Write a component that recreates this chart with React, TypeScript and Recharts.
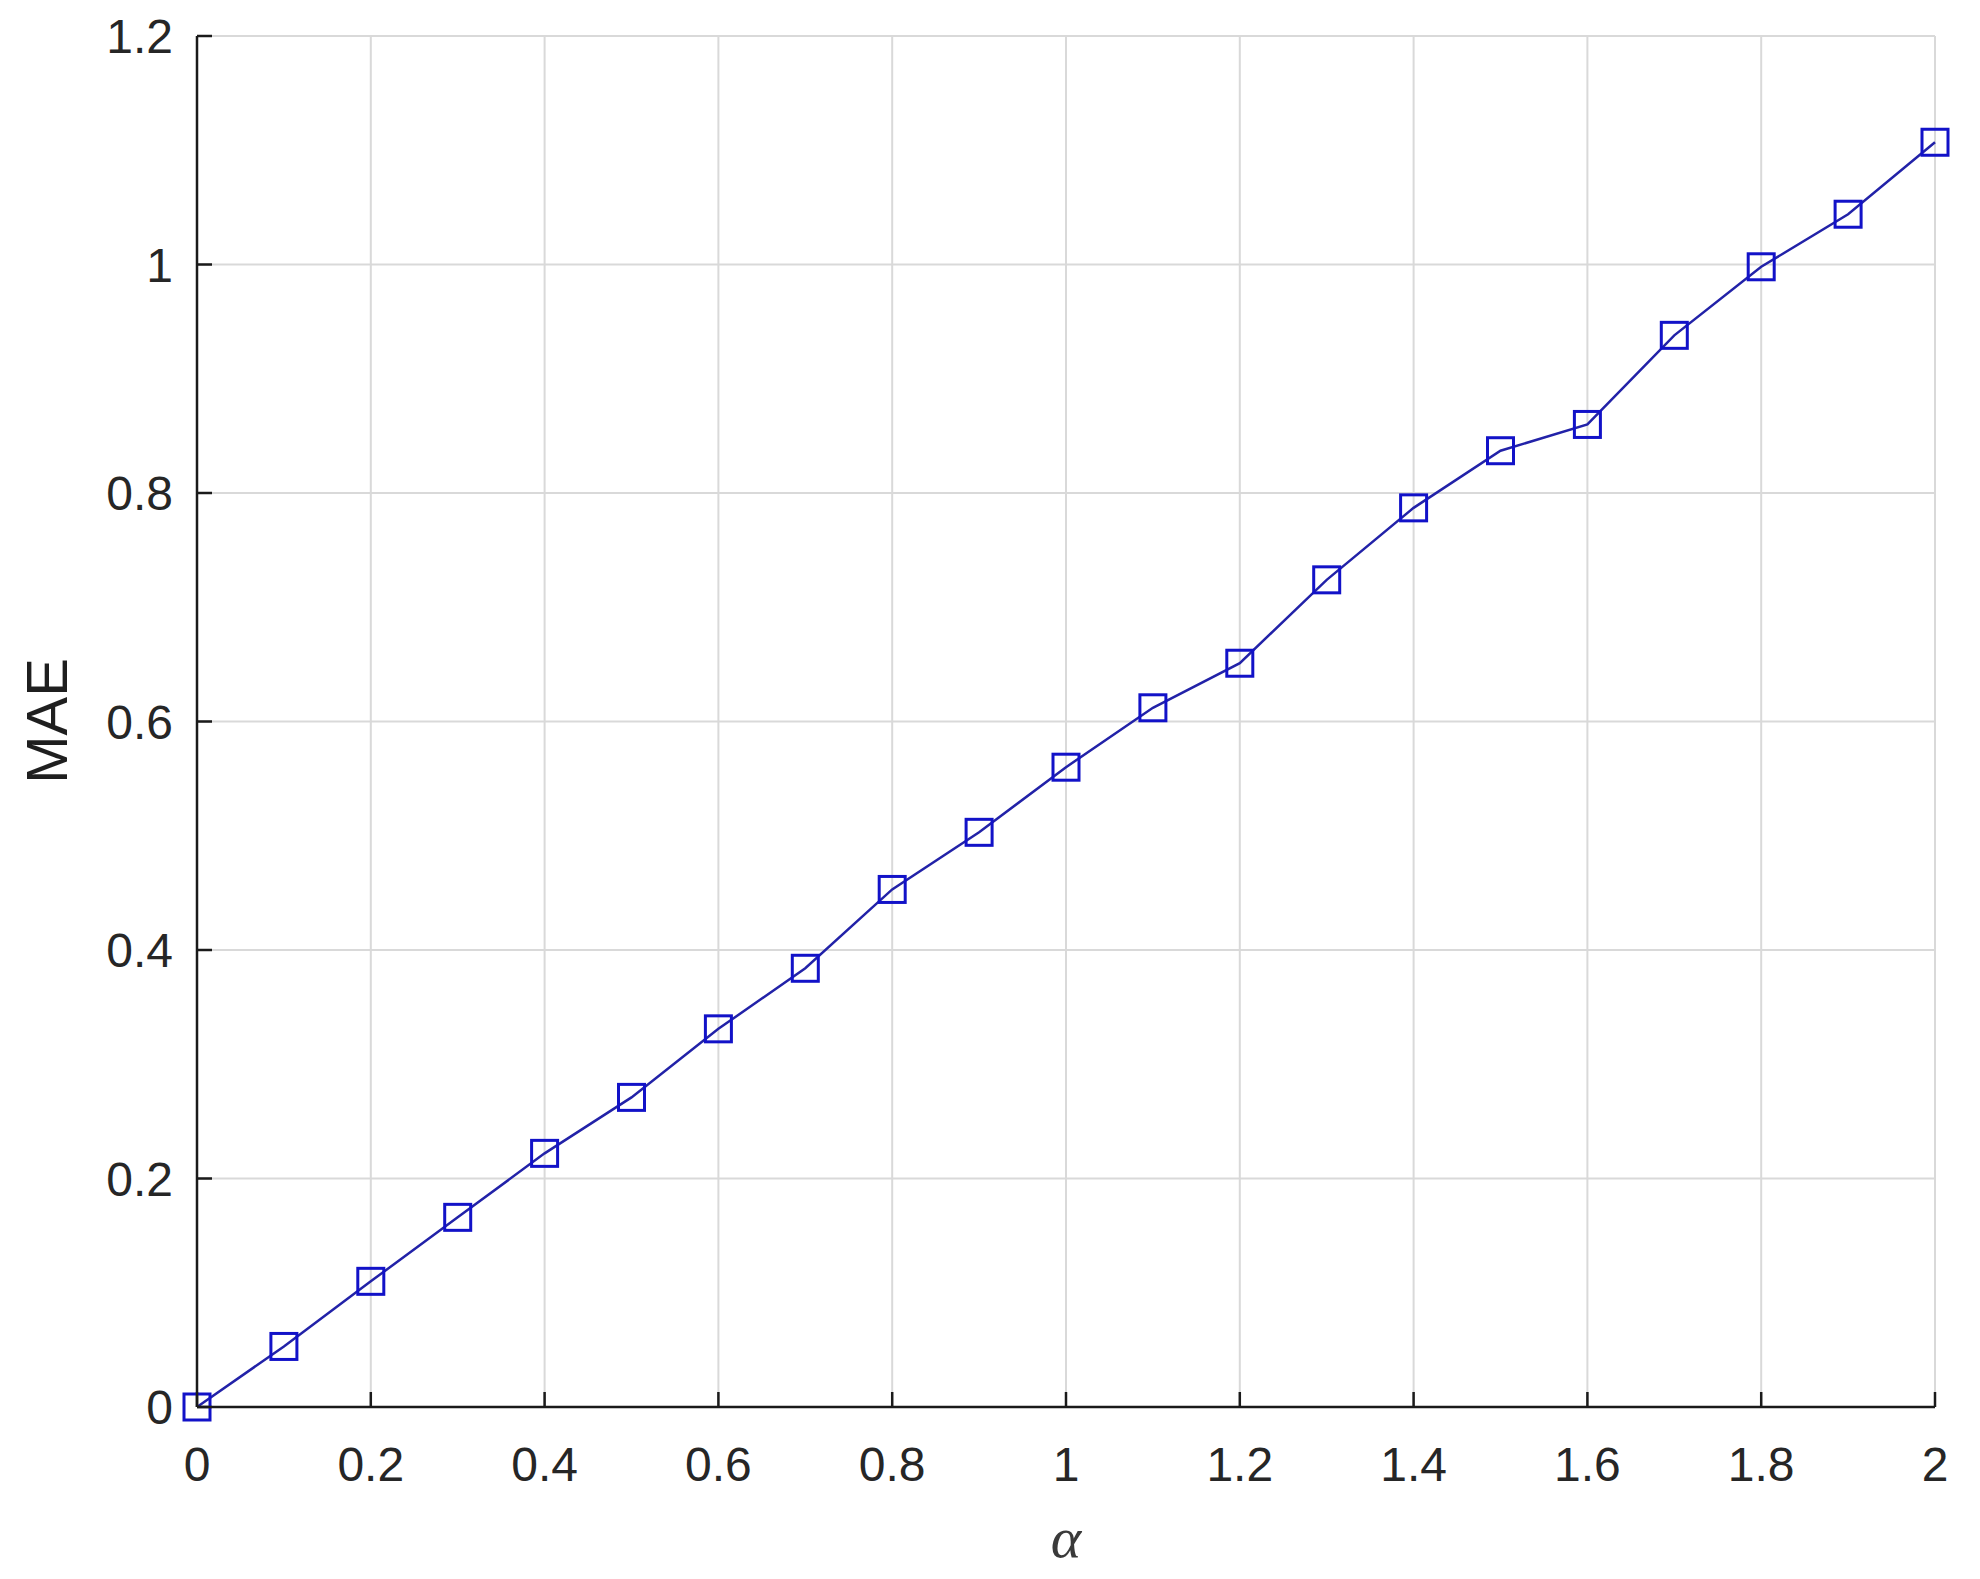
import React from "react";
import { LineChart, Line, XAxis, YAxis, CartesianGrid } from "recharts";

// alpha sweep and the measured MAE at each step
const alphaValues = [0, 0.1, 0.2, 0.3, 0.4, 0.5, 0.6, 0.7, 0.8, 0.9, 1, 1.1, 1.2, 1.3, 1.4, 1.5, 1.6, 1.7, 1.8, 1.9, 2];
const maeValues = [
  0, 0.053, 0.11, 0.166, 0.222, 0.271, 0.331, 0.384, 0.453, 0.503, 0.56, 0.612, 0.651, 0.724, 0.787,
  0.837, 0.86, 0.938, 0.998, 1.044, 1.107,
];
const xTicks = [0, 0.2, 0.4, 0.6, 0.8, 1, 1.2, 1.4, 1.6, 1.8, 2];
const yTicks = [0, 0.2, 0.4, 0.6, 0.8, 1, 1.2];

const data = alphaValues.map((a, i) => ({ alpha: a, mae: maeValues[i] }));

// plot box edges (px) – matlab-style ticks point inward, so we draw them ourselves
const PLOT = { left: 197, right: 1935, top: 36, bottom: 1407 };
const TICK_LEN = 15;
const AXIS_COLOR = "#1a1a1a";

const FONT = '"Liberation Sans", Arial, Helvetica, sans-serif';
const axisLine = { stroke: AXIS_COLOR, strokeWidth: 2.5 };

function BottomTick(props: any) {
  const { x, payload } = props;
  return (
    <g>
      <line x1={x} x2={x} y1={PLOT.bottom} y2={PLOT.bottom - TICK_LEN} stroke={AXIS_COLOR} strokeWidth={2.5} />
      <text x={x} y={1447} dy="0.71em" textAnchor="middle" fontFamily={FONT} fontSize={48} fill="#262626">
        {String(payload.value)}
      </text>
    </g>
  );
}

function LeftTick(props: any) {
  const { y, payload } = props;
  return (
    <g>
      <line x1={PLOT.left} x2={PLOT.left + TICK_LEN} y1={y} y2={y} stroke={AXIS_COLOR} strokeWidth={2.5} />
      <text x={173} y={y} dy="0.355em" textAnchor="end" fontFamily={FONT} fontSize={48} fill="#262626">
        {String(payload.value)}
      </text>
    </g>
  );
}

function TopTick(props: any) {
  const { x } = props;
  return <line x1={x} x2={x} y1={PLOT.top} y2={PLOT.top + TICK_LEN} stroke={AXIS_COLOR} strokeWidth={2.5} />;
}

function RightTick(props: any) {
  const { y } = props;
  return <line x1={PLOT.right} x2={PLOT.right - TICK_LEN} y1={y} y2={y} stroke={AXIS_COLOR} strokeWidth={2.5} />;
}

function SquareDot(props: any) {
  const { cx, cy } = props;
  if (cx == null || cy == null) return null;
  return (
    <rect x={cx - 13} y={cy - 13} width={26} height={26} fill="none" stroke="#1212c8" strokeWidth={3} />
  );
}

export default function App() {
  return (
    <div style={{ position: "absolute", left: 0, top: 0, background: "#fff" }}>
      <LineChart
        width={1980}
        height={1579}
        data={data}
        margin={{ top: 36, right: 45, bottom: 0, left: 0 }}
      >
        <CartesianGrid stroke="#d9d9d9" strokeWidth={2} />
        <XAxis
          dataKey="alpha"
          type="number"
          domain={[0, 2]}
          ticks={xTicks}
          interval={0}
          height={172}
          tick={<BottomTick />}
          tickLine={false}
          axisLine={axisLine}
          label={() => (
            <text
              x={1066}
              y={1557}
              textAnchor="middle"
              fontFamily='"Liberation Serif", "DejaVu Serif", serif'
              fontStyle="italic"
              fontSize={58}
              fill="#3a3a3a"
            >
              α
            </text>
          )}
        />
        <XAxis
          xAxisId="top"
          dataKey="alpha"
          type="number"
          orientation="top"
          domain={[0, 2]}
          ticks={xTicks}
          interval={0}
          height={0}
          tick={<TopTick />}
          tickLine={false}
          axisLine={axisLine}
        />
        <YAxis
          type="number"
          domain={[0, 1.2]}
          ticks={yTicks}
          interval={0}
          width={197}
          tick={<LeftTick />}
          tickLine={false}
          axisLine={axisLine}
          label={() => (
            <text
              x={46}
              y={721}
              transform="rotate(-90 46 721)"
              textAnchor="middle"
              dominantBaseline="central"
              fontFamily={FONT}
              fontSize={58}
              fill="#1f1f1f"
            >
              MAE
            </text>
          )}
        />
        <YAxis
          yAxisId="right"
          type="number"
          orientation="right"
          domain={[0, 1.2]}
          ticks={yTicks}
          interval={0}
          width={0}
          tick={<RightTick />}
          tickLine={false}
          axisLine={axisLine}
        />
        <Line
          dataKey="mae"
          stroke="#2222a8"
          strokeWidth={2.5}
          dot={<SquareDot />}
          activeDot={false}
          isAnimationActive={false}
        />
      </LineChart>
    </div>
  );
}
